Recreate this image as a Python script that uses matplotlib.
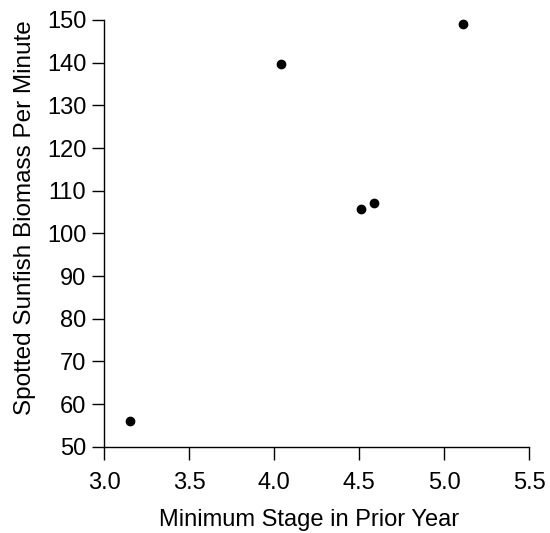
import matplotlib
matplotlib.use("Agg")
import matplotlib.pyplot as plt

# data
stage = [3.15, 4.04, 4.51, 4.59, 5.11]
biomass = [56.0, 139.7, 105.6, 107.2, 149.0]
x_ticks = [3.0, 3.5, 4.0, 4.5, 5.0, 5.5]
y_ticks = [50, 60, 70, 80, 90, 100, 110, 120, 130, 140, 150]

plt.rcParams["font.family"] = ["Liberation Sans", "DejaVu Sans"]

fig = plt.figure(figsize=(5.5, 5.33), dpi=100)
ax = fig.add_axes([0.1896, 0.1619, 0.7722, 0.8006])

ax.plot(stage, biomass, "o", color="black", markersize=6, clip_on=False)

ax.set_xlim(3.0, 5.5)
ax.set_ylim(50, 150)
ax.set_xticks(x_ticks)
ax.set_xticklabels([f"{t:.1f}" for t in x_ticks])
ax.set_yticks(y_ticks)

for side in ["top", "right"]:
    ax.spines[side].set_visible(False)
for side in ["left", "bottom"]:
    ax.spines[side].set_linewidth(1)

ax.tick_params(direction="out", length=9, width=1, labelsize=17)
ax.tick_params(axis="x", pad=9)
ax.tick_params(axis="y", pad=4)

# axis titles placed where they sit in the reference
fig.text(0.5627, 0.0131, "Minimum Stage in Prior Year", fontsize=17,
         ha="center", va="baseline")
fig.text(0.0455, 0.591, "Spotted Sunfish Biomass Per Minute", fontsize=17.5,
         rotation=90, ha="center", va="center")

fig.savefig("out.png", dpi=100)
